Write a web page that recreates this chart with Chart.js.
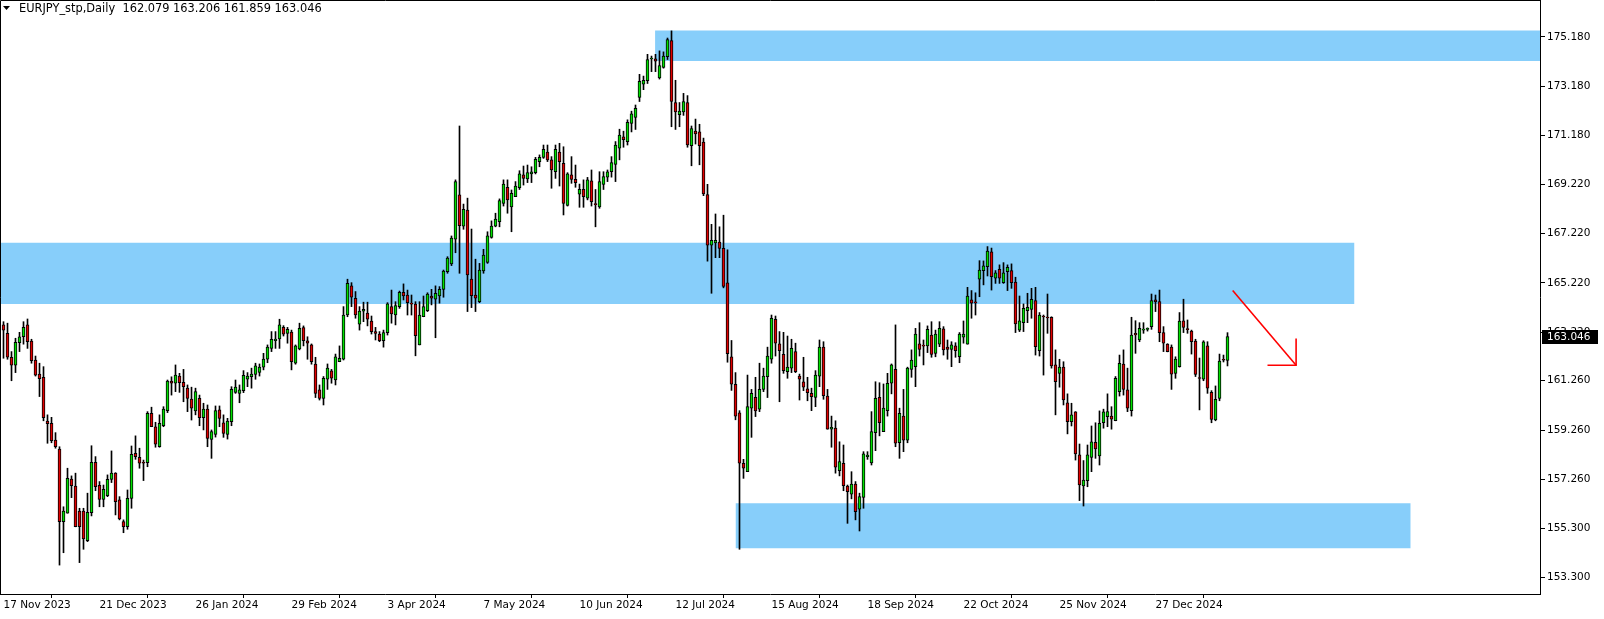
<!DOCTYPE html>
<html>
<head>
<meta charset="utf-8">
<script src="https://cdn.jsdelivr.net/npm/chart.js@4/dist/chart.umd.min.js"></script>
<style>
html,body{margin:0;padding:0;background:#fff;overflow:hidden;}
#wrap{width:1604px;height:619px;position:relative;}
canvas{display:block;}
</style>
</head>
<body>
<div id="wrap"><canvas id="c" width="1604" height="619"></canvas></div>
<script>
// ---- data (EURJPY daily, bar index 0 = 17 Nov 2023) ----
const opens = [
163.52,163.18,162.21,161.89,162.80,163.04,163.52,162.87,162.10,161.53,
161.40,159.63,159.54,158.86,158.49,155.56,155.90,157.28,157.00,155.99,
155.99,154.79,155.92,157.96,157.03,156.46,156.61,157.27,157.52,156.44,
155.56,155.35,156.50,158.32,158.16,157.96,157.94,159.94,159.40,158.59,
159.44,160.05,161.25,161.16,161.45,161.20,160.96,160.52,160.04,160.55,
159.77,160.11,158.89,159.09,160.08,159.56,159.09,159.60,160.79,160.75,
160.86,161.32,161.43,161.52,161.60,161.81,162.13,162.57,162.88,162.95,
163.42,163.18,163.23,161.97,162.55,163.41,162.88,162.71,161.93,160.89,
160.55,161.32,161.66,161.29,162.03,162.13,163.92,165.10,164.60,163.55,
164.08,164.00,163.68,163.25,163.15,162.88,163.21,164.26,163.92,164.26,
164.84,164.73,164.40,164.36,162.71,163.85,164.10,164.69,164.56,164.69,
164.96,165.67,165.99,166.99,168.78,167.52,168.17,165.37,164.73,164.46,
165.70,166.05,167.06,167.52,167.70,168.44,169.09,168.30,168.71,169.07,
169.59,169.43,169.63,169.68,170.13,170.30,170.51,170.20,169.72,170.51,
170.06,168.36,169.59,169.41,168.81,169.01,168.65,169.35,168.40,168.30,
169.21,169.50,169.72,170.02,170.67,171.13,170.94,171.67,171.92,172.73,
173.26,173.40,174.28,174.29,173.52,173.94,174.38,175.03,172.52,172.03,
172.14,172.52,170.77,171.36,171.33,170.92,168.79,166.75,166.84,166.87,
166.62,165.22,162.23,161.12,159.96,157.92,157.58,160.15,160.59,160.11,
160.91,161.43,162.13,163.75,162.75,162.33,161.63,161.77,162.44,161.45,
161.22,160.93,160.75,160.59,161.45,162.62,160.64,159.30,159.34,157.62,
157.92,157.00,156.67,157.08,156.06,156.54,158.19,157.93,159.16,160.59,
159.20,160.05,161.16,161.72,158.75,159.83,158.86,161.72,161.83,162.75,
162.67,162.67,163.11,162.37,162.74,163.36,162.62,162.53,162.67,162.23,
163.02,162.74,164.53,164.42,165.37,165.72,165.88,166.48,165.41,165.77,
165.23,165.67,165.72,165.25,163.31,163.61,164.10,164.15,164.50,162.48,
163.85,163.81,163.83,161.90,161.56,161.81,160.37,159.60,160.00,158.26,
157.00,157.22,158.16,158.77,158.22,159.56,159.81,159.83,159.64,160.82,
161.93,160.89,160.05,163.18,162.91,163.31,163.34,163.45,164.53,164.46,
163.21,162.74,162.62,161.56,161.83,163.69,163.34,163.27,162.87,161.36,
161.32,162.67,160.79,159.67,160.55,162.10,162.079];
const highs = [
163.65,163.59,162.44,162.98,163.22,163.65,163.76,162.94,162.26,161.97,
161.83,159.88,159.78,159.16,158.59,156.16,157.72,157.41,157.52,156.10,
156.10,156.71,158.63,158.19,157.18,157.04,157.45,158.42,157.54,156.57,
155.63,156.84,158.62,159.03,158.53,158.05,160.01,160.19,159.58,159.88,
160.21,161.29,161.42,161.90,161.56,161.72,161.09,161.00,160.96,160.68,
160.35,160.28,159.27,160.24,160.24,159.88,159.74,161.02,161.29,161.09,
161.67,161.59,161.77,161.97,161.94,162.37,162.71,163.25,163.25,163.75,
163.49,163.42,163.31,162.71,163.59,163.48,163.04,162.75,162.21,161.09,
161.43,161.94,161.72,162.34,162.67,164.26,165.37,165.23,164.87,164.26,
164.44,164.44,163.88,163.42,163.25,163.31,164.42,164.93,164.46,164.89,
165.18,164.93,164.73,164.46,164.46,164.69,164.82,164.96,165.10,165.07,
165.74,166.28,167.12,169.39,171.57,168.41,168.65,167.40,166.18,166.01,
166.58,167.29,167.73,168.04,168.62,169.39,169.39,168.98,169.32,169.76,
169.95,169.99,169.92,170.30,170.40,170.80,170.80,170.33,170.80,170.87,
170.73,169.68,170.33,169.99,169.22,169.39,169.49,169.79,169.00,169.72,
169.72,169.79,170.33,170.94,171.44,171.36,171.82,172.17,172.42,173.66,
173.59,174.47,174.40,174.47,174.61,174.57,175.13,175.42,173.42,172.52,
172.89,172.80,171.57,171.85,171.64,171.08,169.21,167.59,168.01,167.49,
167.96,166.56,162.89,161.59,160.05,158.08,161.49,160.91,161.40,161.97,
161.77,162.62,163.92,163.88,163.25,163.22,163.07,162.94,162.78,161.53,
162.21,161.40,160.96,161.67,162.91,162.84,160.91,159.83,159.64,158.79,
158.66,157.04,157.58,157.18,156.71,158.39,158.39,160.01,161.22,161.18,
161.13,161.56,161.94,163.52,160.15,160.91,161.81,162.51,163.38,163.61,
162.91,163.48,163.65,163.31,163.65,163.45,162.91,162.84,162.80,163.21,
163.68,165.04,164.91,164.82,166.12,166.11,166.69,166.63,165.72,165.95,
166.04,165.95,165.99,165.45,164.69,164.37,164.80,165.00,165.04,164.02,
163.92,164.77,163.85,162.51,162.13,162.03,160.73,160.35,160.01,158.70,
158.03,158.66,159.43,159.56,160.04,160.11,160.73,160.21,161.43,162.30,
162.51,161.77,163.83,163.69,163.61,163.61,163.40,164.77,164.73,164.93,
163.45,162.76,162.71,162.23,164.02,164.56,163.72,163.31,162.94,162.18,
162.88,162.84,160.86,161.05,162.34,162.30,163.206];
const lows = [
162.17,162.13,161.26,161.59,162.44,162.74,162.57,161.97,161.45,160.62,
159.64,158.73,158.75,158.53,153.80,154.30,155.90,156.53,155.35,153.90,
154.44,154.75,155.79,156.81,156.16,156.16,156.57,157.14,155.83,155.63,
155.11,155.25,156.10,158.08,157.72,157.22,157.78,159.40,158.57,158.57,
159.40,159.97,160.68,160.82,160.79,160.41,160.01,159.67,159.88,159.44,
159.27,158.59,158.12,158.98,159.40,158.97,158.90,159.44,160.75,160.37,
160.78,161.02,160.96,161.32,161.45,161.70,161.99,162.44,162.57,162.57,
163.07,162.78,161.70,161.93,162.51,162.67,162.13,161.93,160.58,160.48,
160.28,160.91,161.16,161.09,162.03,162.10,163.85,164.26,163.79,163.31,
163.65,163.48,163.15,162.91,162.84,162.62,163.11,163.59,163.52,164.19,
164.53,163.92,163.92,162.27,162.71,163.85,164.06,164.33,163.00,164.40,
164.64,165.61,165.92,166.44,165.61,167.39,164.06,164.22,164.06,164.42,
165.61,166.01,167.03,167.49,167.49,168.33,168.04,167.29,168.71,169.00,
169.18,169.28,169.28,169.63,169.92,170.26,170.13,169.05,169.45,169.14,
167.97,168.33,169.25,169.09,168.28,168.28,168.58,168.33,167.49,168.24,
169.00,169.32,169.50,169.32,170.20,170.71,170.80,171.33,171.43,172.56,
173.04,173.29,173.77,173.77,173.47,173.91,174.26,171.54,171.43,171.54,
172.00,170.71,169.96,170.84,170.00,168.75,166.10,164.80,166.24,166.24,
165.02,162.01,160.87,159.68,154.44,157.31,157.58,158.97,159.81,160.01,
160.82,160.58,161.97,162.26,160.41,161.56,161.36,161.59,161.59,160.48,
160.86,160.45,160.05,160.21,161.02,160.51,159.30,158.57,157.52,157.41,
156.81,155.49,156.48,155.63,155.18,156.10,158.08,157.85,158.43,159.03,
159.20,159.83,160.73,158.59,158.12,158.39,158.75,161.40,161.02,162.26,
161.90,162.40,162.21,162.23,162.64,162.30,162.13,161.83,162.21,161.99,
162.78,162.74,163.79,163.92,164.66,165.14,165.50,164.93,165.20,165.20,
165.20,164.91,165.00,163.21,163.25,163.25,163.61,163.79,162.30,162.26,
161.49,163.18,161.77,159.88,161.00,160.28,159.11,159.43,158.05,156.41,
156.19,156.97,157.58,158.12,157.85,159.34,159.40,159.30,159.64,160.64,
160.68,160.01,159.83,162.37,162.84,163.18,163.27,163.34,164.06,162.84,
162.44,162.43,160.91,161.36,161.81,163.21,163.18,162.34,161.43,160.08,
161.26,160.75,159.56,159.64,160.45,162.02,161.859];
const closes = [
163.31,162.21,161.89,162.82,163.04,163.42,162.84,162.07,161.49,161.34,
159.77,159.52,158.84,158.59,155.56,155.99,157.31,157.01,155.35,155.35,
154.86,155.94,157.96,156.97,156.46,156.87,157.27,157.52,156.37,155.67,
155.35,156.50,158.28,158.19,157.92,157.92,159.94,159.40,158.69,159.54,
160.11,161.25,161.16,161.49,161.18,161.02,160.55,160.15,160.82,159.77,
160.11,158.93,159.20,160.05,159.74,159.13,159.63,160.91,161.00,160.89,
161.48,161.45,161.53,161.86,161.81,162.14,162.62,162.94,162.95,163.52,
163.15,163.34,162.03,162.67,163.38,162.88,162.78,162.03,160.75,160.55,
161.36,161.77,161.36,162.23,162.17,163.92,165.20,164.64,163.92,164.08,
164.15,163.75,163.25,163.18,162.88,163.21,164.37,163.96,164.30,164.84,
164.69,164.42,164.36,163.08,163.92,164.26,164.77,164.60,164.80,164.96,
165.70,166.22,167.03,169.32,167.54,168.20,165.54,164.70,164.60,165.74,
166.35,167.12,167.52,167.80,168.55,169.22,168.58,168.85,169.14,169.63,
169.45,169.68,169.72,170.22,170.30,170.63,170.20,169.79,170.63,170.13,
168.44,169.63,169.41,169.28,169.01,168.71,169.39,168.51,168.39,169.32,
169.52,169.72,170.09,170.80,171.20,171.02,171.72,172.06,172.28,173.38,
173.42,174.26,174.32,174.19,174.01,174.40,175.07,172.56,172.14,172.17,
172.56,170.80,171.47,171.25,170.77,168.82,166.75,166.94,166.94,166.62,
165.08,162.36,161.12,159.83,157.92,157.72,160.21,160.75,160.04,160.91,
161.45,162.26,163.79,162.78,162.48,161.67,161.81,162.57,161.63,161.32,
161.00,160.78,160.62,161.49,162.62,160.66,159.30,159.38,157.76,157.99,
157.01,156.77,157.08,155.96,156.57,158.30,158.25,159.20,160.55,159.56,
160.15,161.16,161.90,158.73,159.94,158.86,161.77,162.10,163.15,162.53,
162.66,163.34,162.33,163.15,163.38,162.51,162.53,162.71,162.48,163.15,
163.15,164.69,164.40,164.41,165.74,165.91,166.51,165.47,165.63,165.41,
165.63,165.85,165.23,163.56,163.69,164.19,164.23,164.56,162.64,163.92,
163.84,163.80,161.86,161.22,161.81,160.48,159.60,159.88,158.30,157.04,
157.24,158.26,158.79,158.50,159.54,160.00,160.01,159.71,161.36,161.97,
160.91,160.15,163.11,163.11,163.38,163.34,163.34,164.50,164.46,163.21,
162.78,162.44,161.53,162.14,163.68,163.42,163.33,162.84,161.52,161.35,
162.84,160.96,159.70,160.51,162.06,162.09,163.046];

const dateLabels = ['17 Nov 2023','21 Dec 2023','26 Jan 2024','29 Feb 2024','3 Apr 2024','7 May 2024',
  '10 Jun 2024','12 Jul 2024','15 Aug 2024','18 Sep 2024','22 Oct 2024','25 Nov 2024','27 Dec 2024'];
const dateLabelStep = 24;
const priceTicks = [175.18,173.18,171.18,169.22,167.22,165.22,163.22,161.26,159.26,157.26,155.30,153.30];

// supply / demand zones (bar index range, price range)
const zoneStart = [162.9, -0.875, 183.0];
const zoneEnd   = [384.125, 337.75, 351.8];
const zoneLow   = [174.20, 164.37, 154.48];
const zoneHigh  = [175.43, 166.84, 156.30];

// red arrow (bar index, price)
const arrowShaftX = [307.3, 323.15];
const arrowShaftY = [164.91, 161.89];
const arrowHeadX  = [316.0, 323.15, 323.15];
const arrowHeadY  = [161.89, 161.89, 162.97];

const symbolTitle = 'EURJPY_stp,Daily';
const lastBar = opens.length - 1;

// ---- chart ----
const xMin = -0.875, xMax = 384.125;
const yMin = 152.630, yMax = 176.669;
const UP = '#00E000', DOWN = '#E00000', ZONE = '#87CEFA';
const FONT = '"DejaVu Sans", Verdana, sans-serif';

const bodyColors = opens.map((o, i) => closes[i] >= o ? UP : DOWN);

const datasets = [];
zoneLow.forEach((lo, k) => {
  datasets.push({
    type: 'line', order: 10,
    data: [{x: zoneStart[k], y: zoneHigh[k]}, {x: zoneEnd[k], y: zoneHigh[k]}],
    borderWidth: 0, borderColor: 'rgba(0,0,0,0)', pointRadius: 0,
    backgroundColor: ZONE, fill: {value: lo}, tension: 0
  });
});
datasets.push({
  type: 'bar', order: 2, grouped: false,
  data: lows.map((l, i) => ({x: i, y: [l, highs[i]]})),
  backgroundColor: '#000', borderWidth: 0, barThickness: 1, minBarLength: 1
});
datasets.push({
  type: 'bar', order: 1, grouped: false,
  data: opens.map((o, i) => ({x: i, y: [o, closes[i]]})),
  backgroundColor: bodyColors, borderColor: '#000', borderWidth: 1,
  borderSkipped: false, barThickness: 3, minBarLength: 1
});
datasets.push({
  type: 'line', order: 0,
  data: arrowShaftX.map((x, k) => ({x, y: arrowShaftY[k]})),
  borderColor: '#FF0000', borderWidth: 1.6, pointRadius: 0, fill: false, tension: 0
});
datasets.push({
  type: 'line', order: 0,
  data: arrowHeadX.map((x, k) => ({x, y: arrowHeadY[k]})),
  borderColor: '#FF0000', borderWidth: 1.6, pointRadius: 0, fill: false, tension: 0
});

const overlay = {
  id: 'overlay',
  afterDraw(chart) {
    const ctx = chart.ctx, ca = chart.chartArea, ys = chart.scales.y;
    ctx.save();
    // frame
    ctx.strokeStyle = '#000'; ctx.lineWidth = 1;
    ctx.beginPath();
    ctx.moveTo(ca.left + 0.5, ca.bottom); ctx.lineTo(ca.left + 0.5, ca.top + 0.5);
    ctx.lineTo(ca.right, ca.top + 0.5);
    ctx.stroke();
    // title
    ctx.fillStyle = '#000';
    ctx.beginPath(); ctx.moveTo(3, 6); ctx.lineTo(10, 6); ctx.lineTo(6.5, 10); ctx.closePath(); ctx.fill();
    ctx.font = '11.4px ' + FONT; ctx.textBaseline = 'alphabetic'; ctx.textAlign = 'left';
    const t = symbolTitle + '  ' + [opens[lastBar], highs[lastBar], lows[lastBar], closes[lastBar]].map(v => v.toFixed(3)).join(' ');
    ctx.fillText(t, 19, 12);
    // current price label
    const yp = Math.round(ys.getPixelForValue(closes[lastBar]));
    ctx.fillStyle = '#000';
    ctx.fillRect(ca.right + 2, yp - 7, 56, 14);
    ctx.fillStyle = '#fff';
    ctx.font = '10.5px ' + FONT; ctx.textBaseline = 'middle';
    ctx.fillText(closes[lastBar].toFixed(3), ca.right + 7, yp + 0.5);
    ctx.restore();
  }
};

new Chart(document.getElementById('c'), {
  type: 'bar',
  data: { datasets },
  options: {
    responsive: false, animation: false, events: [],
    devicePixelRatio: 1,
    layout: { padding: 0 },
    plugins: { legend: { display: false }, tooltip: { enabled: false } },
    scales: {
      x: {
        type: 'linear', position: 'bottom', min: xMin, max: xMax, offset: false,
        afterBuildTicks: s => { s.ticks = dateLabels.map((_, k) => ({ value: k * dateLabelStep })); },
        afterFit: s => { s.height = 25; s.paddingLeft = 0; s.paddingRight = 0; },
        ticks: {
          autoSkip: false, maxRotation: 0, align: 'start', padding: 1,
          color: '#000', font: { family: FONT, size: 10.5 },
          callback: v => dateLabels[Math.round(v / dateLabelStep)]
        },
        grid: { drawOnChartArea: false, drawTicks: true, tickLength: 4, color: '#000' },
        border: { display: true, color: '#000', width: 1 }
      },
      y: {
        type: 'linear', position: 'right', min: yMin, max: yMax,
        afterBuildTicks: s => { s.ticks = priceTicks.map(v => ({ value: v })); },
        afterFit: s => { s.width = 64; s.paddingTop = 0; s.paddingBottom = 0; },
        ticks: {
          padding: 2, color: '#000', font: { family: FONT, size: 10.5 },
          callback: v => Number(v).toFixed(3)
        },
        grid: { drawOnChartArea: false, drawTicks: true, tickLength: 5, color: '#000' },
        border: { display: true, color: '#000', width: 1 }
      }
    }
  },
  plugins: [overlay]
});
</script>
</body>
</html>
